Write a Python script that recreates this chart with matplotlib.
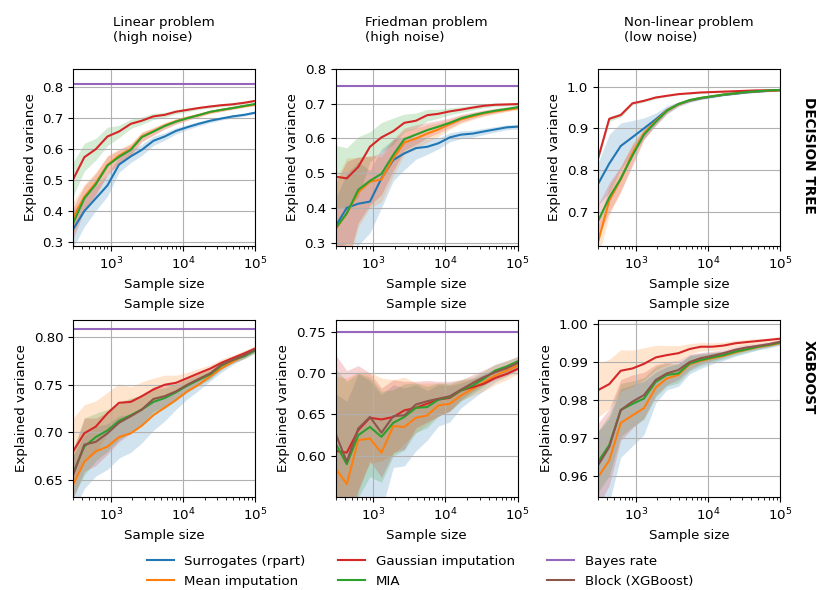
import numpy as np
import matplotlib
matplotlib.use("Agg")
import matplotlib.pyplot as plt

plt.rcParams['font.size'] = 9.6
plt.rcParams['axes.titlesize'] = 'medium'

# sample sizes (x axis)
sizes = [300, 430, 620, 900, 1300, 1900, 2700, 3900, 5600, 8000,
         11500, 16500, 24000, 34000, 49000, 71000, 100000]

# ---- Decision tree, linear problem (high noise)
dt_lin_surr = [0.340, 0.399, 0.440, 0.482, 0.549, 0.576, 0.597, 0.626, 0.640, 0.658, 0.670, 0.681, 0.691, 0.698, 0.705, 0.710, 0.717]
dt_lin_mean = [0.377, 0.445, 0.490, 0.548, 0.578, 0.600, 0.640, 0.657, 0.675, 0.689, 0.700, 0.709, 0.719, 0.726, 0.732, 0.738, 0.743]
dt_lin_gauss = [0.501, 0.573, 0.599, 0.640, 0.656, 0.681, 0.691, 0.705, 0.710, 0.720, 0.726, 0.732, 0.737, 0.741, 0.744, 0.749, 0.755]
dt_lin_mia = [0.359, 0.440, 0.485, 0.546, 0.574, 0.597, 0.638, 0.656, 0.674, 0.688, 0.699, 0.709, 0.720, 0.726, 0.732, 0.739, 0.745]
dt_lin_surr_sd = [0.060, 0.050, 0.040, 0.035, 0.025, 0.020, 0.018, 0.015, 0.012, 0.010, 0.008, 0.007, 0.006, 0.005, 0.005, 0.004, 0.004]
dt_lin_mean_sd = [0.050, 0.040, 0.035, 0.030, 0.022, 0.018, 0.015, 0.012, 0.010, 0.008, 0.007, 0.006, 0.005, 0.005, 0.004, 0.004, 0.004]
dt_lin_gauss_sd = [0.055, 0.045, 0.035, 0.030, 0.020, 0.015, 0.012, 0.010, 0.008, 0.007, 0.006, 0.005, 0.005, 0.004, 0.004, 0.004, 0.003]
dt_lin_mia_sd = [0.050, 0.040, 0.035, 0.030, 0.022, 0.018, 0.015, 0.012, 0.010, 0.008, 0.007, 0.006, 0.005, 0.005, 0.004, 0.004, 0.004]
dt_lin_bayes = 0.81

# ---- Decision tree, Friedman problem (high noise)
dt_fri_surr = [0.347, 0.400, 0.412, 0.418, 0.485, 0.538, 0.557, 0.572, 0.576, 0.586, 0.603, 0.611, 0.614, 0.620, 0.626, 0.632, 0.634]
dt_fri_mean = [0.338, 0.384, 0.445, 0.475, 0.482, 0.543, 0.588, 0.600, 0.614, 0.626, 0.641, 0.655, 0.664, 0.672, 0.678, 0.683, 0.687]
dt_fri_gauss = [0.490, 0.485, 0.518, 0.576, 0.603, 0.621, 0.645, 0.651, 0.667, 0.671, 0.678, 0.683, 0.689, 0.694, 0.697, 0.698, 0.699]
dt_fri_mia = [0.341, 0.384, 0.452, 0.478, 0.498, 0.553, 0.598, 0.611, 0.624, 0.634, 0.645, 0.658, 0.667, 0.674, 0.680, 0.685, 0.690]
dt_fri_surr_sd = [0.080, 0.100, 0.120, 0.090, 0.085, 0.060, 0.047, 0.032, 0.022, 0.016, 0.013, 0.011, 0.010, 0.009, 0.008, 0.007, 0.007]
dt_fri_mean_sd = [0.140, 0.160, 0.100, 0.075, 0.065, 0.050, 0.035, 0.030, 0.025, 0.020, 0.015, 0.012, 0.010, 0.008, 0.007, 0.006, 0.005]
dt_fri_gauss_sd = [0.090, 0.088, 0.087, 0.043, 0.043, 0.038, 0.025, 0.022, 0.017, 0.013, 0.010, 0.008, 0.007, 0.006, 0.005, 0.004, 0.004]
dt_fri_mia_sd = [0.130, 0.150, 0.095, 0.070, 0.060, 0.045, 0.032, 0.028, 0.022, 0.018, 0.014, 0.011, 0.009, 0.008, 0.007, 0.006, 0.005]
dt_fri_bayes = 0.75

# ---- Decision tree, non-linear problem (low noise)
dt_nl_surr = [0.767, 0.816, 0.858, 0.879, 0.900, 0.922, 0.944, 0.958, 0.966, 0.972, 0.976, 0.980, 0.983, 0.986, 0.988, 0.990, 0.991]
dt_nl_mean = [0.628, 0.728, 0.778, 0.840, 0.888, 0.918, 0.943, 0.958, 0.967, 0.973, 0.977, 0.981, 0.984, 0.987, 0.989, 0.990, 0.991]
dt_nl_gauss = [0.828, 0.923, 0.932, 0.960, 0.966, 0.974, 0.978, 0.982, 0.984, 0.986, 0.987, 0.988, 0.989, 0.990, 0.991, 0.991, 0.992]
dt_nl_mia = [0.678, 0.735, 0.780, 0.835, 0.885, 0.916, 0.942, 0.958, 0.968, 0.973, 0.977, 0.981, 0.984, 0.987, 0.989, 0.991, 0.992]
dt_nl_surr_sd = [0.050, 0.070, 0.055, 0.040, 0.025, 0.015, 0.010, 0.006, 0.004, 0.003, 0.003, 0.002, 0.002, 0.002, 0.002, 0.002, 0.002]
dt_nl_mean_sd = [0.040, 0.035, 0.030, 0.025, 0.012, 0.008, 0.006, 0.004, 0.003, 0.003, 0.002, 0.002, 0.002, 0.002, 0.002, 0.002, 0.002]
dt_nl_gauss_sd = [0.008, 0.006, 0.005, 0.004, 0.003, 0.003, 0.002, 0.002, 0.002, 0.002, 0.002, 0.002, 0.002, 0.002, 0.002, 0.002, 0.002]
dt_nl_mia_sd = [0.040, 0.035, 0.030, 0.025, 0.012, 0.008, 0.006, 0.004, 0.003, 0.003, 0.002, 0.002, 0.002, 0.002, 0.002, 0.002, 0.002]

# ---- XGBoost, linear problem (high noise)
xg_lin_mean = [0.645, 0.669, 0.680, 0.685, 0.695, 0.699, 0.707, 0.718, 0.726, 0.734, 0.743, 0.750, 0.759, 0.767, 0.774, 0.781, 0.787]
xg_lin_gauss = [0.680, 0.699, 0.706, 0.720, 0.731, 0.732, 0.738, 0.745, 0.750, 0.752, 0.757, 0.762, 0.767, 0.773, 0.778, 0.783, 0.788]
xg_lin_mia = [0.657, 0.685, 0.695, 0.702, 0.712, 0.718, 0.724, 0.732, 0.736, 0.742, 0.749, 0.755, 0.761, 0.770, 0.776, 0.780, 0.786]
xg_lin_block = [0.655, 0.687, 0.690, 0.699, 0.710, 0.717, 0.724, 0.735, 0.738, 0.743, 0.750, 0.756, 0.762, 0.771, 0.776, 0.781, 0.787]
xg_lin_mean_sd = [0.030, 0.028, 0.026, 0.024, 0.022, 0.020, 0.018, 0.016, 0.014, 0.010, 0.008, 0.006, 0.005, 0.004, 0.003, 0.003, 0.003]
xg_lin_gauss_sd = [0.035, 0.030, 0.027, 0.022, 0.020, 0.016, 0.015, 0.012, 0.010, 0.008, 0.006, 0.005, 0.004, 0.004, 0.003, 0.003, 0.003]
xg_lin_mia_sd = [0.025, 0.030, 0.025, 0.022, 0.020, 0.018, 0.015, 0.013, 0.011, 0.009, 0.007, 0.006, 0.005, 0.004, 0.003, 0.003, 0.003]
xg_lin_block_sd = [0.025, 0.028, 0.025, 0.022, 0.020, 0.018, 0.015, 0.013, 0.011, 0.009, 0.007, 0.006, 0.005, 0.004, 0.003, 0.003, 0.003]
xg_lin_bayes = 0.8084

# ---- XGBoost, Friedman problem (high noise)
xg_fri_mean = [0.585, 0.566, 0.619, 0.621, 0.604, 0.636, 0.635, 0.646, 0.649, 0.661, 0.663, 0.673, 0.681, 0.689, 0.697, 0.703, 0.709]
xg_fri_gauss = [0.606, 0.604, 0.631, 0.646, 0.644, 0.647, 0.655, 0.658, 0.663, 0.668, 0.670, 0.679, 0.683, 0.687, 0.694, 0.699, 0.705]
xg_fri_mia = [0.615, 0.590, 0.625, 0.635, 0.623, 0.640, 0.647, 0.658, 0.659, 0.668, 0.671, 0.679, 0.685, 0.693, 0.703, 0.708, 0.714]
xg_fri_block = [0.627, 0.593, 0.633, 0.647, 0.628, 0.648, 0.649, 0.662, 0.666, 0.669, 0.672, 0.680, 0.688, 0.695, 0.701, 0.706, 0.712]
xg_fri_mean_sd = [0.090, 0.100, 0.080, 0.070, 0.070, 0.050, 0.047, 0.040, 0.030, 0.025, 0.022, 0.015, 0.012, 0.010, 0.008, 0.007, 0.006]
xg_fri_gauss_sd = [0.090, 0.090, 0.070, 0.055, 0.050, 0.045, 0.040, 0.030, 0.025, 0.020, 0.016, 0.012, 0.010, 0.009, 0.008, 0.007, 0.006]
xg_fri_mia_sd = [0.090, 0.100, 0.075, 0.060, 0.055, 0.040, 0.040, 0.030, 0.025, 0.020, 0.017, 0.013, 0.010, 0.009, 0.008, 0.007, 0.006]
xg_fri_block_sd = [0.095, 0.110, 0.076, 0.053, 0.054, 0.044, 0.041, 0.028, 0.025, 0.021, 0.018, 0.012, 0.010, 0.009, 0.009, 0.009, 0.008]
xg_fri_bayes = 0.749

# ---- XGBoost, non-linear problem (low noise)
xg_nl_mean = [0.9598, 0.9642, 0.9740, 0.9760, 0.9779, 0.9833, 0.9857, 0.9866, 0.9894, 0.9903, 0.9910, 0.9916, 0.9925, 0.9932, 0.9939, 0.9944, 0.9949]
xg_nl_gauss = [0.9826, 0.9842, 0.9877, 0.9883, 0.9895, 0.9912, 0.9918, 0.9923, 0.9934, 0.9940, 0.9940, 0.9943, 0.9949, 0.9952, 0.9955, 0.9958, 0.9961]
xg_nl_mia = [0.9638, 0.9682, 0.9774, 0.9790, 0.9804, 0.9848, 0.9866, 0.9870, 0.9896, 0.9905, 0.9912, 0.9918, 0.9927, 0.9933, 0.9940, 0.9945, 0.9951]
xg_nl_block = [0.9629, 0.9677, 0.9774, 0.9796, 0.9813, 0.9853, 0.9870, 0.9879, 0.9900, 0.9910, 0.9916, 0.9923, 0.9932, 0.9938, 0.9942, 0.9947, 0.9953]
xg_nl_mean_sd = [0.0120, 0.0110, 0.0090, 0.0080, 0.0070, 0.0040, 0.0030, 0.0030, 0.0025, 0.0020, 0.0015, 0.0012, 0.0010, 0.0009, 0.0008, 0.0007, 0.0006]
xg_nl_gauss_sd = [0.0070, 0.0065, 0.0055, 0.0048, 0.0042, 0.0032, 0.0025, 0.0020, 0.0014, 0.0011, 0.0010, 0.0009, 0.0008, 0.0007, 0.0006, 0.0005, 0.0005]
xg_nl_mia_sd = [0.0080, 0.0080, 0.0070, 0.0060, 0.0055, 0.0040, 0.0030, 0.0025, 0.0020, 0.0015, 0.0012, 0.0010, 0.0009, 0.0008, 0.0007, 0.0006, 0.0005]
xg_nl_block_sd = [0.0110, 0.0100, 0.0080, 0.0070, 0.0060, 0.0040, 0.0030, 0.0025, 0.0020, 0.0015, 0.0012, 0.0010, 0.0009, 0.0008, 0.0007, 0.0006, 0.0005]

titles = ['Linear problem\n(high noise)', 'Friedman problem\n(high noise)', 'Non-linear problem\n(low noise)']
row_labels = ['DECISION TREE', 'XGBOOST']
ylims = [(0.286, 0.858), (0.29, 0.80), (0.619, 1.042),
         (0.632, 0.818), (0.5504, 0.764), (0.9546, 1.001)]

line_colors = {'surr': 'C0', 'mean': 'C1', 'gauss': 'C3', 'mia': 'C2', 'block': 'C5'}
names = {'surr': 'Surrogates (rpart)', 'mean': 'Mean imputation',
         'gauss': 'Gaussian imputation', 'mia': 'MIA', 'block': 'Block (XGBoost)'}

panels = [
    [('surr', dt_lin_surr, dt_lin_surr_sd), ('mean', dt_lin_mean, dt_lin_mean_sd),
     ('gauss', dt_lin_gauss, dt_lin_gauss_sd), ('mia', dt_lin_mia, dt_lin_mia_sd)],
    [('surr', dt_fri_surr, dt_fri_surr_sd), ('mean', dt_fri_mean, dt_fri_mean_sd),
     ('gauss', dt_fri_gauss, dt_fri_gauss_sd), ('mia', dt_fri_mia, dt_fri_mia_sd)],
    [('surr', dt_nl_surr, dt_nl_surr_sd), ('mean', dt_nl_mean, dt_nl_mean_sd),
     ('gauss', dt_nl_gauss, dt_nl_gauss_sd), ('mia', dt_nl_mia, dt_nl_mia_sd)],
    [('mean', xg_lin_mean, xg_lin_mean_sd), ('gauss', xg_lin_gauss, xg_lin_gauss_sd),
     ('mia', xg_lin_mia, xg_lin_mia_sd), ('block', xg_lin_block, xg_lin_block_sd)],
    [('mean', xg_fri_mean, xg_fri_mean_sd), ('gauss', xg_fri_gauss, xg_fri_gauss_sd),
     ('mia', xg_fri_mia, xg_fri_mia_sd), ('block', xg_fri_block, xg_fri_block_sd)],
    [('mean', xg_nl_mean, xg_nl_mean_sd), ('gauss', xg_nl_gauss, xg_nl_gauss_sd),
     ('mia', xg_nl_mia, xg_nl_mia_sd), ('block', xg_nl_block, xg_nl_block_sd)],
]
bayes = [dt_lin_bayes, dt_fri_bayes, None, xg_lin_bayes, xg_fri_bayes, None]

fig, axes = plt.subplots(2, 3, figsize=(8.17, 5.9), dpi=100)
fig.subplots_adjust(left=0.0894, right=0.9547, top=0.883, bottom=0.1576,
                    wspace=0.442, hspace=0.418)

handles = {}
x = np.array(sizes)
for k, ax in enumerate(axes.flat):
    # the bands follow the colour cycle, the lines their method colour
    for i, (key, vals, sd) in enumerate(panels[k]):
        v = np.array(vals)
        s = np.array(sd)
        ax.fill_between(x, v - s, v + s, color='C%d' % i, alpha=0.2, lw=0)
    for key, vals, sd in panels[k]:
        ln, = ax.plot(x, vals, color=line_colors[key], lw=1.5, label=names[key])
        handles[key] = ln
    if bayes[k] is not None:
        ln, = ax.plot(x, [bayes[k]] * len(x), color='C4', lw=1.5, label='Bayes rate')
        handles['bayes'] = ln
    ax.set_xscale('log')
    ax.set_xlim(300, 1e5)
    ax.set_ylim(*ylims[k])
    ax.grid(True)
    ax.set_xlabel('Sample size')
    ax.set_ylabel('Explained variance')
    if k < 3:
        ax.set_title(titles[k], pad=20, ma='left')
    else:
        ax.set_title('Sample size', pad=9)

fig.text(0.990, 0.737, row_labels[0], rotation=-90, ha='center', va='center',
         fontweight='bold', fontsize=9.8)
fig.text(0.990, 0.361, row_labels[1], rotation=-90, ha='center', va='center',
         fontweight='bold', fontsize=9.8)

order = ['surr', 'mean', 'gauss', 'mia', 'bayes', 'block']
labels = [names.get(o, 'Bayes rate') for o in order]
fig.legend([handles[o] for o in order], labels, loc='center', ncol=3,
           frameon=False, columnspacing=2.45, bbox_to_anchor=(0.514, 0.0314))

fig.savefig('out.png', dpi=100)
